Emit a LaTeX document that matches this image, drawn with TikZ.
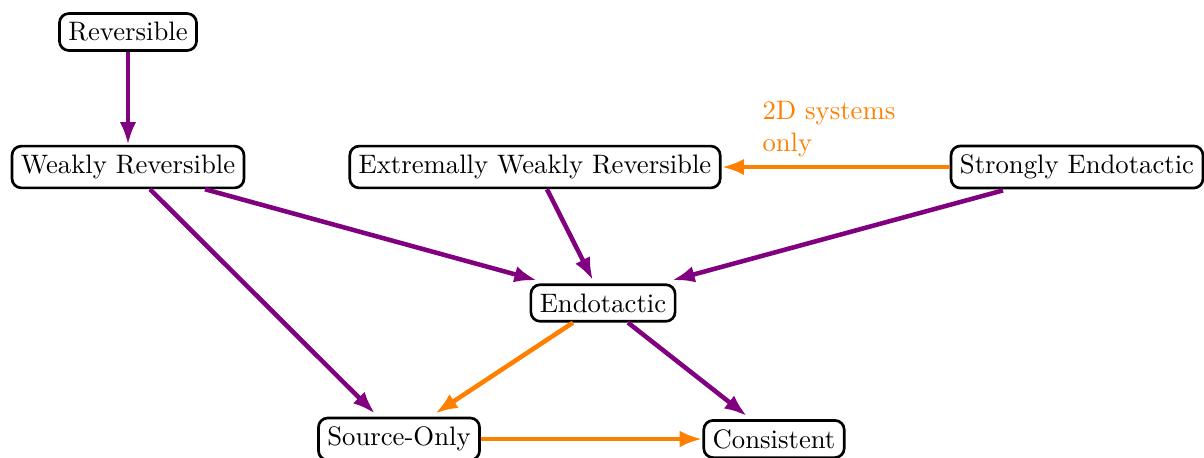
\documentclass[tikz,border=0pt]{standalone}
\usetikzlibrary{arrows.meta,calc}
\definecolor{mypurple}{RGB}{128,0,128}
\definecolor{myorange}{RGB}{255,128,0}
\begin{document}
\begin{tikzpicture}[x=0.3745pt,y=-0.3745pt,
  box/.style={draw=black,line width=1pt,rounded corners=3.5pt,fill=white,inner sep=3.33pt},
  parr/.style={draw=mypurple,line width=1.7pt,-{Latex[length=8.5pt,width=6.2pt]}},
  oarr/.style={draw=myorange,line width=1.7pt,-{Latex[length=8.5pt,width=6.2pt]}}]
\useasboundingbox (0,0) rectangle (1204,457);
\node[box] (rev) at (128,32) {Reversible};
\node[box] (wr) at (128,167) {Weakly Reversible};
\node[box] (ewr) at (535,167) {Extremally Weakly Reversible};
\node[box] (se) at (1077,167) {Strongly Endotactic};
\node[box] (endo) at (603,303) {Endotactic};
\node[box] (so) at (399,439) {Source-Only};
\node[box] (cons) at (774,439) {Consistent};
\node[anchor=north west,inner sep=0,text=myorange,align=left] (lbl) at (762,101) {2D systems\\only};
\draw[parr] (rev.south) -- (wr.north);
\draw[parr] ($(wr.south)+(22,0)$) -- ($(so.north)+(-24,-3)$);
\draw[parr] ($(wr.south)+(77,0)$) -- ($(endo.north)+(-66,-3)$);
\draw[parr] ($(ewr.south)+(12,0)$) -- ($(endo.north)+(-10,-3)$);
\draw[parr] ($(se.south)+(-74,1)$) -- ($(endo.north)+(69,-3)$);
\draw[oarr] (se.west) -- (ewr.east);
\draw[oarr] ($(endo.south)+(-30,0)$) -- ($(so.north)+(36,-3)$);
\draw[parr] ($(endo.south)+(25,0)$) -- ($(cons.north)+(-27,-3)$);
\draw[oarr] (so.east) -- (cons.west);
\end{tikzpicture}
\end{document}
